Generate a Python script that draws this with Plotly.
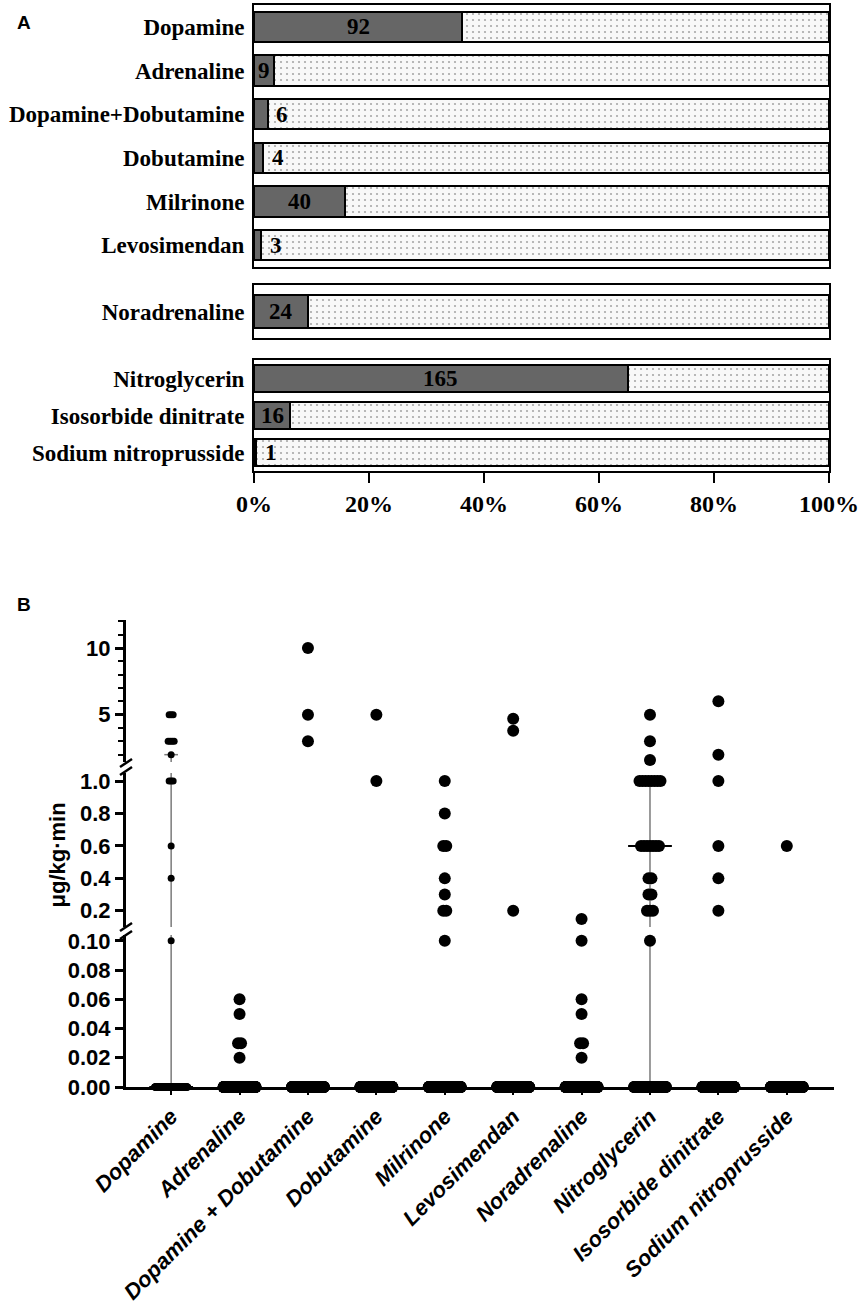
import numpy as np
import plotly.graph_objects as go

# ---------- Panel A: patients receiving each drug ----------
group1 = ["Dopamine", "Adrenaline", "Dopamine+Dobutamine", "Dobutamine", "Milrinone", "Levosimendan"]
group2 = ["Noradrenaline"]
group3 = ["Nitroglycerin", "Isosorbide dinitrate", "Sodium nitroprusside"]

used_g1 = [92, 9, 6, 4, 40, 3]
used_g2 = [24]
used_g3 = [165, 16, 1]
total_patients = 254

pct_ticks = [0, 20, 40, 60, 80, 100]

# ---------- Panel B: doses (µg/kg·min) ----------
drugs_b = ["Dopamine", "Adrenaline", "Dopamine + Dobutamine", "Dobutamine", "Milrinone",
           "Levosimendan", "Noradrenaline", "Nitroglycerin", "Isosorbide dinitrate",
           "Sodium nitroprusside"]

dose_dopamine = [5, 5, 5, 3, 3, 3, 3, 2, 1, 1, 1, 0.6, 0.4, 0.1]
dose_adrenaline = [0.06, 0.05, 0.03, 0.03, 0.02]
dose_dop_dob = [10, 5, 3]
dose_dobutamine = [5, 1]
dose_milrinone = [1, 0.8, 0.6, 0.6, 0.4, 0.3, 0.2, 0.2, 0.1]
dose_levosimendan = [4.7, 3.8, 0.2]
dose_noradrenaline = [0.15, 0.1, 0.06, 0.05, 0.03, 0.03, 0.02]
dose_nitroglycerin = [5, 3, 1.6, 1, 1, 1, 1, 1, 1, 1, 1, 0.6, 0.6, 0.6, 0.6, 0.6, 0.6, 0.6,
                      0.4, 0.4, 0.3, 0.3, 0.2, 0.2, 0.2, 0.1]
dose_isosorbide = [6, 2, 1, 0.6, 0.4, 0.2]
dose_nitroprusside = [0.6]

zero_counts = [162, 245, 248, 250, 214, 251, 230, 89, 238, 253]
median_dose = [0, 0, 0, 0, 0, 0, 0, 0.6, 0, 0]
q1_dose = [0, 0, 0, 0, 0, 0, 0, 0, 0, 0]
q3_dose = [2, 0, 0, 0, 0, 0, 0, 1, 0, 0]

doses = [dose_dopamine, dose_adrenaline, dose_dop_dob, dose_dobutamine, dose_milrinone,
         dose_levosimendan, dose_noradrenaline, dose_nitroglycerin, dose_isosorbide,
         dose_nitroprusside]

W, H = 866, 1304
SERIF = "Liberation Serif, Times New Roman, serif"
SANS = "Liberation Sans, Arial, sans-serif"


def fx(p):
    return p / W


def fy(p):
    return 1 - p / H


fig = go.Figure()

# ---- panel A bars ----
groups = [(group1, used_g1, "x", "y", 0.69), (group2, used_g2, "x2", "y2", 0.62),
          (group3, used_g3, "x3", "y3", 0.72)]
annotations = []
for cats, used, xa, ya, bw in groups:
    pct = np.array(used) / total_patients * 100
    fig.add_trace(go.Bar(y=cats, x=pct, orientation="h", xaxis=xa, yaxis=ya, width=bw,
                         marker=dict(color="#666666", line=dict(color="black", width=2)),
                         hoverinfo="skip"))
    fig.add_trace(go.Bar(y=cats, x=100 - pct, orientation="h", xaxis=xa, yaxis=ya, width=bw,
                         marker=dict(color="#f8f8f8", line=dict(color="black", width=2),
                                     pattern=dict(shape=".", fgcolor="#a8a8a8", bgcolor="#f8f8f8",
                                                  size=6, solidity=0.1, fillmode="replace")),
                         hoverinfo="skip"))
    for c, n, p in zip(cats, used, pct):
        if p >= 3:
            ax, anchor = p / 2, "center"
        else:
            ax, anchor = p + 1.2, "left"
        annotations.append(dict(x=ax, y=c, xref=xa, yref=ya, text=str(n), showarrow=False,
                                xanchor=anchor, font=dict(family=SERIF, size=23, color="black",
                                                          weight="bold")))

# ---- panel B dots ----
PX_PER_UNIT = (834 - 126) / (9.69 + 0.66)


def spread(values, center, step_px, span_px):
    xs, ys = [], []
    for v in sorted(set(values)):
        k = values.count(v)
        gap = step_px if k < 2 else min(step_px, span_px / (k - 1))
        for j in range(k):
            xs.append(center + (j - (k - 1) / 2) * gap / PX_PER_UNIT)
            ys.append(v)
    return xs, ys


segments = [("x4", "y4", 1.05, 99), ("x5", "y5", 0.104, 1.05), ("x6", "y6", -1, 0.104)]

for xa, ya, lo, hi in segments:
    # IQR lines and median lines
    lx, ly, mx, my = [], [], [], []
    for i in range(len(drugs_b)):
        lx += [i, i, None]
        ly += [q1_dose[i], q3_dose[i], None]
        if q3_dose[i] > 0:
            lx += [i - 0.1, i + 0.1, None]
            ly += [q3_dose[i], q3_dose[i], None]
        mx += [i - 0.32, i + 0.32, None]
        my += [median_dose[i], median_dose[i], None]
    fig.add_trace(go.Scatter(x=lx, y=ly, mode="lines", xaxis=xa, yaxis=ya,
                             line=dict(color="#7a7a7a", width=1.5), hoverinfo="skip"))
    fig.add_trace(go.Scatter(x=mx, y=my, mode="lines", xaxis=xa, yaxis=ya,
                             line=dict(color="black", width=2), hoverinfo="skip"))

    for small in (False, True):
        px_, py_ = [], []
        for i, vals in enumerate(doses):
            if (drugs_b[i] == "Dopamine") != small:
                continue
            allv = vals + [0] * zero_counts[i]
            sel = [v for v in allv if lo < v <= hi]
            if not sel:
                continue
            step, span = (2.0, 33) if small else (3.0, 32)
            xs, ys = spread(sel, i, step, span)
            px_ += xs
            py_ += ys
        fig.add_trace(go.Scatter(x=px_, y=py_, mode="markers", xaxis=xa, yaxis=ya,
                                 marker=dict(color="black", size=7 if small else 12),
                                 cliponaxis=False, hoverinfo="skip"))

# ---- axes ----
frame = dict(showline=True, mirror=True, linecolor="black", linewidth=2, showgrid=False,
             zeroline=False, automargin=False)
cat_font = dict(family=SERIF, size=23, color="black", weight="bold")
xa_dom = [fx(254), fx(829)]

layout_axes = dict(
    xaxis=dict(domain=xa_dom, range=[0, 100], anchor="y", showticklabels=False, ticks="", **frame),
    yaxis=dict(domain=[fy(267), fy(5)], anchor="x", type="category", autorange="reversed",
               ticks="", tickfont=cat_font, ticklabelstandoff=3, **frame),
    xaxis2=dict(domain=xa_dom, range=[0, 100], anchor="y2", showticklabels=False, ticks="", **frame),
    yaxis2=dict(domain=[fy(338), fy(285)], anchor="x2", type="category", autorange="reversed",
                ticks="", tickfont=cat_font, ticklabelstandoff=3, **frame),
    xaxis3=dict(domain=xa_dom, range=[0, 100], anchor="y3", ticks="outside", ticklen=10,
                tickwidth=2, tickcolor="black", tickvals=pct_ticks,
                ticktext=[f"{v}%" for v in pct_ticks],
                tickfont=dict(family=SERIF, size=24, color="black", weight="bold"), **frame),
    yaxis3=dict(domain=[fy(471), fy(360)], anchor="x3", type="category", autorange="reversed",
                ticks="", tickfont=cat_font, ticklabelstandoff=3, **frame),
)

bx_dom = [fx(126), fx(834)]
brange = [-0.66, 9.69]
ytick_font = dict(family=SANS, size=22, color="black", weight="bold")
yb_common = dict(showline=True, linecolor="black", linewidth=3, ticks="outside", ticklen=8,
                 tickwidth=2.5, tickcolor="black", showgrid=False, zeroline=False,
                 tickfont=ytick_font, automargin=False)

layout_axes.update(
    xaxis4=dict(domain=bx_dom, range=brange, anchor="y4", visible=False, automargin=False),
    xaxis5=dict(domain=bx_dom, range=brange, anchor="y5", visible=False, automargin=False),
    xaxis6=dict(domain=bx_dom, range=brange, anchor="y6", showline=True, linecolor="black",
                linewidth=3, ticks="outside", ticklen=5, tickwidth=2, tickcolor="black",
                tickvals=list(range(len(drugs_b))), ticktext=drugs_b, tickangle=-45,
                showgrid=False, zeroline=False, automargin=False,
                tickfont=dict(family=SANS, size=22, color="black", weight="bold", style="italic")),
    yaxis4=dict(domain=[fy(762), fy(620)], anchor="x4", range=[1.45, 12.1], tick0=0, dtick=5,
                minor=dict(dtick=1, ticks="outside", ticklen=5, tickwidth=2, tickcolor="black"),
                **yb_common),
    yaxis5=dict(domain=[fy(927), fy(773)], anchor="x5", range=[0.1, 1.05], tick0=0, dtick=0.2,
                tickformat=".1f", **yb_common),
    yaxis6=dict(domain=[fy(1087), fy(935)], anchor="x6", range=[0, 0.104], tick0=0, dtick=0.02,
                tickformat=".2f", **yb_common),
)

# axis break marks
shapes = []
for yb in (767, 931):
    for dy in (-4, 4):
        shapes.append(dict(type="line", xref="paper", yref="paper",
                           x0=fx(120), y0=fy(yb + dy + 4), x1=fx(132), y1=fy(yb + dy - 4),
                           line=dict(color="black", width=2.5)))

annotations += [
    dict(x=fx(15), y=fy(10), xref="paper", yref="paper", text="A", showarrow=False,
         font=dict(family=SANS, size=19, color="black", weight="bold")),
    dict(x=fx(15), y=fy(604), xref="paper", yref="paper", text="B", showarrow=False,
         font=dict(family=SANS, size=19, color="black", weight="bold")),
    dict(x=fx(42), y=fy(855), xref="paper", yref="paper", text="μg/kg·min", showarrow=False,
         textangle=-90, font=dict(family=SANS, size=22, color="black", weight="bold")),
]

fig.update_layout(
    width=W, height=H, margin=dict(l=0, r=0, t=0, b=0),
    paper_bgcolor="white", plot_bgcolor="white", showlegend=False,
    barmode="stack", annotations=annotations, shapes=shapes, **layout_axes,
)

# drop the browser's default page margin so the figure fills the window
fig.write_html("out.html", config={"displayModeBar": False},
               post_script="document.body.style.margin = '0';")
